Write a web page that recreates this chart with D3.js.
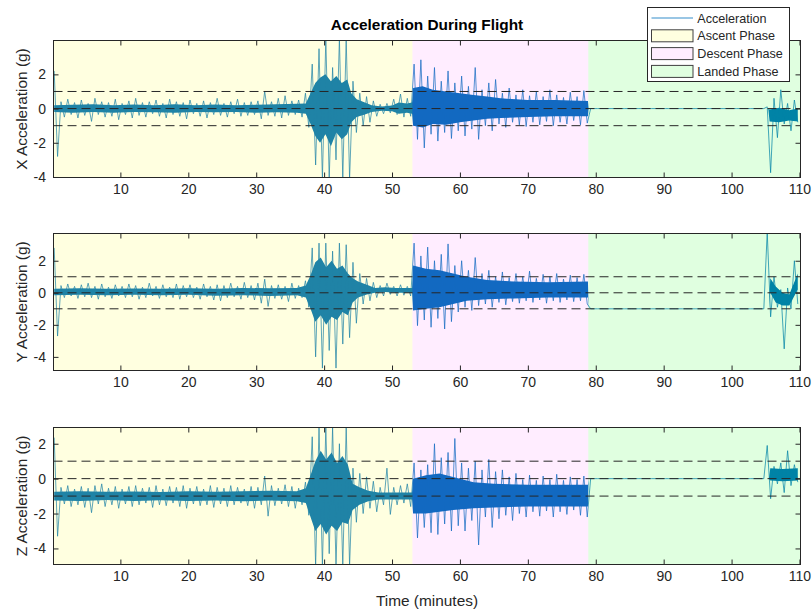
<!DOCTYPE html>
<html>
<head>
<meta charset="utf-8">
<script src="https://cdnjs.cloudflare.com/ajax/libs/d3/7.8.5/d3.min.js"></script>
<style>
    body { margin: 0; background: #fff; }
    svg { font-family: "Liberation Sans", Arial, Helvetica, sans-serif; }
</style>
</head>
<body>
<div class="chart"></div>
<script>
/* ---------------------------------------------------- +/

## Acceleration During Flight ##

Three stacked panels (X, Y, Z) over the flight phases

/+ ---------------------------------------------------- */

var phases = ['Ascent Phase', 'Descent Phase', 'Landed Phase'];
var phaseStart = [0.15, 53.0, 78.9];
var phaseEnd = [53.0, 78.9, 110.15];
var phaseColors = ['#ffff00', '#ff00ff', '#00ff00'];
var phaseAlpha = [0.12, 0.07, 0.12];

var xTicks = [10, 20, 30, 40, 50, 60, 70, 80, 90, 100, 110];
var yTicks = [-4, -2, 0, 2];
var refLines = [1, 0, -1];

var axisNames = ['X Acceleration (g)', 'Y Acceleration (g)', 'Z Acceleration (g)'];
var yLimits = [[-4.03, 3.98], [-4.85, 3.7], [-4.92, 2.93]];

/**
 * Peak values per minute (max then min)
 */
var xHi = [2.2, 0.4, 0.55, 0.35, 0.5, 0.3, 0.6, 0.4, 0.35, 0.55,
    0.3, 0.45, 0.6, 0.35, 0.4, 0.5, 0.3, 0.55, 0.4, 0.35,
    0.5, 0.3, 0.45, 0.35, 0.6, 0.3, 0.4, 0.55, 0.35, 0.4,
    0.45, 1.0, 0.4, 0.6, 0.75, 0.45, 0.5, 0.9, 2.6, 3.5,
    4.1, 2.4, 4.1, 4.1, 1.6, 0.9, 0.7, 0.45, 0.25, 0.3,
    0.55, 0.85, 0.6, 2.6, 2.85, 1.9, 2.4, 1.6, 2.2, 1.5,
    1.9, 1.3, 2.4, 1.1, 1.5, 1.7, 0.9, 1.2, 0.8, 1.1,
    0.75, 1.0, 0.7, 1.1, 0.8, 0.65, 0.95, 0.7, 1.05, 0,
    0, 0, 0, 0, 0, 0, 0, 0, 0, 0,
    0, 0, 0, 0, 0, 0, 0, 0, 0, 0,
    0, 0, 0, 0, 0, 0.1, 0.6, 1.1, 0.3, 0.5];
var xLo = [-2.8, -0.5, -0.35, -0.55, -0.4, -0.75, -0.35, -0.5, -0.45, -0.65,
    -0.35, -0.55, -0.4, -0.5, -0.3, -0.45, -0.55, -0.35, -0.45, -0.6,
    -0.3, -0.45, -0.55, -0.35, -0.4, -0.5, -0.3, -0.45, -0.4, -0.35,
    -0.6, -0.4, -0.45, -0.55, -0.4, -0.35, -0.5, -1.1, -3.3, -4.1,
    -4.1, -3.0, -4.1, -4.1, -1.4, -1.0, -0.8, -0.45, -0.3, -0.25,
    -0.35, -0.5, -0.45, -1.8, -2.3, -1.5, -1.9, -1.4, -1.75, -1.3,
    -1.6, -1.2, -1.8, -1.0, -1.3, -0.9, -1.1, -0.8, -0.95, -1.05,
    -0.8, -0.95, -0.75, -1.0, -0.8, -0.9, -0.7, -0.95, -0.85, 0,
    0, 0, 0, 0, 0, 0, 0, 0, 0, 0,
    0, 0, 0, 0, 0, 0, 0, 0, 0, 0,
    0, 0, 0, 0, 0, -3.75, -1.7, -0.9, -1.3, -0.8];
// dense core of the signal: [minute, low, high]
var xCore = [[0.25, -0.2, 0.2], [3, -0.25, 0.22], [6, -0.2, 0.25], [9, -0.25, 0.2],
    [12, -0.2, 0.24], [15, -0.22, 0.2], [18, -0.25, 0.25], [21, -0.2, 0.2],
    [24, -0.22, 0.24], [27, -0.2, 0.2], [30, -0.25, 0.22], [33, -0.22, 0.25],
    [36, -0.25, 0.28], [37.3, -0.3, 0.3], [38, -0.9, 0.9], [38.7, -1.6, 1.5],
    [39.4, -2.0, 1.8], [40.2, -1.5, 2.0], [41, -2.2, 1.6], [41.8, -1.4, 1.9],
    [42.6, -1.8, 1.5], [43.4, -1.5, 1.7], [44, -0.8, 0.9], [44.8, -0.5, 0.55],
    [46, -0.35, 0.35], [47, -0.2, 0.2], [48.5, -0.12, 0.12], [50, -0.15, 0.18],
    [51, -0.3, 0.35], [52.2, -0.25, 0.3], [52.95, -0.3, 0.35], [53.1, -1.0, 1.2],
    [54.5, -1.1, 1.3], [56, -0.9, 1.1], [58, -0.95, 1.0], [60, -0.8, 0.9],
    [62, -0.7, 0.8], [64, -0.6, 0.7], [66, -0.55, 0.6], [70, -0.5, 0.5],
    [74, -0.45, 0.5], [78.85, -0.45, 0.45], [78.95, 0, 0], [105.4, 0, 0],
    [105.6, -0.75, -0.05], [107, -0.8, 0.05], [108.5, -0.7, -0.1], [109.75, -0.75, 0.0]];

var yHi = [2.8, 0.45, 0.55, 0.4, 0.5, 0.6, 0.4, 0.55, 0.35, 0.5,
    0.4, 0.55, 0.45, 0.35, 0.6, 0.4, 0.5, 0.35, 0.55, 0.45,
    0.5, 0.35, 0.55, 0.4, 0.5, 0.45, 0.6, 0.4, 0.65, 0.45,
    0.6, 0.85, 0.45, 0.5, 0.4, 0.6, 0.45, 0.75, 2.8, 3.1,
    3.1, 2.6, 3.1, 3.0, 1.9, 1.2, 0.9, 0.65, 0.45, 0.6,
    0.4, 0.5, 0.4, 3.1, 2.3, 2.85, 2.0, 2.4, 3.05, 1.7,
    2.0, 1.4, 2.2, 1.2, 1.4, 1.0, 1.3, 0.95, 1.2, 1.0,
    1.35, 0.9, 1.15, 1.0, 1.2, 0.85, 1.1, 0.95, 1.15, -1,
    -1, -1, -1, -1, -1, -1, -1, -1, -1, -1,
    -1, -1, -1, -1, -1, -1, -1, -1, -1, -1,
    -1, -1, -1, -1, -1, 3.8, 1.0, 0.2, 0.3, 2.0];
var yLo = [-2.7, -0.3, -0.2, -0.35, -0.25, -0.3, -0.4, -0.25, -0.35, -0.2,
    -0.3, -0.25, -0.4, -0.3, -0.2, -0.35, -0.25, -0.3, -0.4, -0.25,
    -0.3, -0.4, -0.25, -0.45, -0.5, -0.3, -0.25, -0.4, -0.3, -0.45,
    -0.65, -0.85, -0.35, -0.4, -0.55, -0.35, -0.3, -0.9, -4.0, -4.7,
    -3.6, -4.7, -3.2, -2.8, -1.9, -0.7, -0.5, -0.3, -0.2, -0.1,
    -0.2, -0.15, -0.2, -2.05, -1.7, -2.15, -1.6, -2.26, -1.8, -1.2,
    -0.9, -1.1, -0.8, -0.7, -0.9, -0.6, -0.75, -0.55, -0.65, -0.5,
    -0.6, -0.45, -0.65, -0.5, -0.6, -0.45, -0.55, -0.5, -0.7, -1,
    -1, -1, -1, -1, -1, -1, -1, -1, -1, -1,
    -1, -1, -1, -1, -1, -1, -1, -1, -1, -1,
    -1, -1, -1, -1, -1, -1.5, -0.9, -3.5, -1.0, -0.7];
var yCore = [[0.25, -0.15, 0.25], [4, -0.12, 0.28], [8, -0.15, 0.25], [12, -0.12, 0.27],
    [16, -0.15, 0.25], [20, -0.12, 0.28], [24, -0.18, 0.25], [28, -0.15, 0.3],
    [32, -0.2, 0.28], [36, -0.15, 0.3], [37.3, -0.3, 0.45], [38, -1.0, 1.1],
    [38.7, -1.8, 1.9], [39.5, -1.4, 2.2], [40.3, -2.0, 1.6], [41.1, -1.5, 2.0],
    [41.9, -1.7, 1.5], [42.7, -1.2, 1.7], [43.5, -1.4, 1.2], [44.2, -0.6, 0.9],
    [45, -0.3, 0.7], [46.3, -0.1, 0.5], [47.5, 0.0, 0.3], [49, 0.05, 0.35],
    [50.5, 0.0, 0.3], [52.95, 0.0, 0.3], [53.1, -1.1, 1.7], [55, -1.0, 1.5],
    [57, -0.9, 1.4], [59, -0.7, 1.2], [61, -0.5, 1.0], [64, -0.4, 0.8],
    [68, -0.35, 0.7], [73, -0.3, 0.65], [78.85, -0.3, 0.7], [78.95, -1, -1],
    [105.5, -1, -1], [105.7, 0.0, 0.9], [106.5, -0.6, 0.4], [107.5, -0.8, 0.0],
    [108.5, -0.8, -0.1], [109.75, 0.2, 1.2]];

var zHi = [2.35, -0.5, -0.4, -0.6, -0.45, -0.55, -0.4, -0.3, -0.55, -0.45,
    -0.6, -0.45, -0.4, -0.55, -0.5, -0.4, -0.6, -0.45, -0.5, -0.4,
    -0.55, -0.45, -0.6, -0.4, -0.5, -0.55, -0.4, -0.5, -0.6, -0.45,
    -0.5, 0.15, -0.4, -0.55, -0.35, -0.45, -0.55, -0.2, 2.4, 2.95,
    2.95, 2.95, 2.0, 2.95, 0.6, 0.3, 0.1, -0.15, -0.5, 0.6,
    -0.5, -0.4, -0.3, 0.9, 0.5, 0.8, 2.0, 1.2, 1.5, 2.3,
    0.9, 0.6, 1.0, 0.5, 1.1, 0.4, 0.5, 0.1, 0.3, -0.05,
    0.2, -0.1, 0.15, -0.05, 0.25, -0.1, 0.1, -0.05, 0.15, 0,
    0, 0, 0, 0, 0, 0, 0, 0, 0, 0,
    0, 0, 0, 0, 0, 0, 0, 0, 0, 0,
    0, 0, 0, 0, 0, 1.9, 0.7, 0.9, 1.6, 0.8];
var zLo = [-3.3, -1.45, -1.6, -1.5, -1.65, -1.95, -1.45, -1.6, -1.5, -1.7,
    -1.45, -1.6, -1.5, -1.4, -1.65, -1.5, -1.55, -1.4, -1.6, -1.7,
    -1.45, -1.55, -1.5, -1.65, -1.45, -1.6, -1.5, -1.4, -1.55, -1.7,
    -1.5, -2.15, -1.55, -1.45, -1.6, -1.7, -1.5, -2.1, -5.0, -5.0,
    -4.3, -5.0, -5.0, -5.0, -2.5, -2.0, -1.7, -1.9, -1.5, -2.05,
    -1.5, -1.4, -1.6, -3.4, -2.8, -3.1, -3.2, -2.6, -3.0, -2.7,
    -3.0, -2.4, -3.8, -2.2, -2.8, -2.3, -2.1, -2.4, -2.0, -2.2,
    -1.9, -2.15, -1.85, -2.2, -1.9, -2.05, -1.8, -2.1, -2.2, 0,
    0, 0, 0, 0, 0, 0, 0, 0, 0, 0,
    0, 0, 0, 0, 0, 0, 0, 0, 0, 0,
    0, 0, 0, 0, 0, -1.15, -0.3, -0.8, -0.4, -0.2];
var zCore = [[0.25, -1.25, -0.75], [4, -1.28, -0.72], [8, -1.22, -0.75], [12, -1.28, -0.73],
    [16, -1.24, -0.76], [20, -1.28, -0.72], [24, -1.25, -0.75], [28, -1.3, -0.72],
    [32, -1.25, -0.7], [36, -1.3, -0.72], [37.3, -1.4, -0.55], [38, -2.2, 0.2],
    [38.7, -3.0, 1.0], [39.5, -2.6, 1.6], [40.3, -3.2, 1.1], [41.1, -2.7, 1.5],
    [41.9, -3.0, 0.9], [42.7, -2.5, 1.3], [43.5, -2.6, 0.8], [44.2, -1.8, -0.3],
    [45.2, -1.5, -0.5], [46.5, -1.3, -0.7], [48, -1.2, -0.8], [52.95, -1.2, -0.8],
    [53.1, -2.0, 0.0], [55, -2.0, 0.2], [57, -1.9, 0.3], [59, -1.8, 0.1],
    [62, -1.7, -0.2], [65, -1.65, -0.3], [70, -1.6, -0.35], [78.85, -1.6, -0.35],
    [78.95, 0, 0], [105.5, 0, 0], [105.7, -0.1, 0.6], [107.5, -0.15, 0.55],
    [109.75, -0.1, 0.6]];

var series = [
    { hi: xHi, lo: xLo, core: xCore },
    { hi: yHi, lo: yLo, core: yCore },
    { hi: zHi, lo: zLo, core: zCore }
];

/**
 * Layout
 */
var width = 812;
var height = 613;
var left = 53.5;
var right = 800.5;
var panelTop = [40.5, 233.5, 427.5];
var panelHeight = 137;
var lineColor = '#0072bd';
var inkColor = '#262626';

var svg = d3.select('.chart').append('svg')
    .attr('width', width)
    .attr('height', height);

var x = d3.scaleLinear()
    .domain([0.15, 110.15])
    .range([left, right]);

series.forEach(function (s, i) {
    var top = panelTop[i];
    var bottom = top + panelHeight;
    var y = d3.scaleLinear()
        .domain(yLimits[i])
        .range([bottom, top]);

    var panel = svg.append('g').attr('class', 'panel');

    panel.append('clipPath')
        .attr('id', 'clip' + i)
      .append('rect')
        .attr('x', left)
        .attr('y', top)
        .attr('width', right - left)
        .attr('height', panelHeight);

    var plot = panel.append('g')
        .attr('clip-path', 'url(#clip' + i + ')');

    // Dense core of the signal
    plot.append('path')
        .datum(s.core)
        .attr('fill', lineColor)
        .attr('d', d3.area()
            .x(function (d) { return x(d[0]); })
            .y0(function (d) { return y(d[1]); })
            .y1(function (d) { return y(d[2]); }));

    // Peaks: max then min in each minute
    var points = [];
    s.hi.forEach(function (v, k) {
        points.push([k + 0.25, v]);
        points.push([k + 0.75, s.lo[k]]);
    });
    plot.append('path')
        .datum(points)
        .attr('fill', 'none')
        .attr('stroke', lineColor)
        .attr('stroke-width', 0.8)
        .attr('stroke-opacity', 0.9)
        .attr('stroke-linejoin', 'round')
        .attr('d', d3.line()
            .x(function (d) { return x(d[0]); })
            .y(function (d) { return y(d[1]); }));

    // Translucent phase shading drawn over the signal
    plot.selectAll('.phase')
        .data(phases)
        .enter().append('rect')
        .attr('class', 'phase')
        .attr('x', function (d, k) { return x(phaseStart[k]); })
        .attr('y', top)
        .attr('width', function (d, k) { return x(phaseEnd[k]) - x(phaseStart[k]); })
        .attr('height', panelHeight)
        .attr('fill', function (d, k) { return phaseColors[k]; })
        .attr('fill-opacity', function (d, k) { return phaseAlpha[k]; });

    // Reference lines at -1, 0, 1 g
    plot.selectAll('.ref')
        .data(refLines)
        .enter().append('line')
        .attr('class', 'ref')
        .attr('x1', left)
        .attr('x2', right)
        .attr('y1', function (d) { return y(d); })
        .attr('y2', function (d) { return y(d); })
        .attr('stroke', inkColor)
        .attr('stroke-width', 1)
        .attr('stroke-dasharray', '9,5');

    /**
     * Axes, ticks inside on all four sides
     */
    var plain = function (d) { return String(d); };
    panel.append('g')
        .attr('transform', 'translate(0,' + bottom + ')')
        .call(d3.axisBottom(x).tickValues(xTicks).tickSize(-5).tickPadding(6.5).tickFormat(plain));
    panel.append('g')
        .attr('transform', 'translate(0,' + top + ')')
        .call(d3.axisTop(x).tickValues(xTicks).tickSize(-5).tickFormat(''));
    panel.append('g')
        .attr('transform', 'translate(' + left + ',0)')
        .call(d3.axisLeft(y).tickValues(yTicks).tickSize(-5).tickPadding(7.5).tickFormat(plain));
    panel.append('g')
        .attr('transform', 'translate(' + right + ',0)')
        .call(d3.axisRight(y).tickValues(yTicks).tickSize(-5).tickFormat(''));

    panel.selectAll('.domain').remove();
    panel.selectAll('.tick line').attr('stroke', inkColor);
    panel.selectAll('.tick text')
        .attr('fill', inkColor)
        .style('font-size', '14px')
        .style('font-family', '"Liberation Sans", Arial, sans-serif');

    panel.append('rect')
        .attr('x', left)
        .attr('y', top)
        .attr('width', right - left)
        .attr('height', panelHeight)
        .attr('fill', 'none')
        .attr('stroke', inkColor)
        .attr('stroke-width', 1);

    panel.append('text')
        .attr('transform', 'translate(26.5,' + (top + panelHeight / 2) + ') rotate(-90)')
        .attr('text-anchor', 'middle')
        .attr('fill', inkColor)
        .style('font-size', '15.4px')
        .text(axisNames[i]);
});

// Title and shared x label
svg.append('text')
    .attr('x', (left + right) / 2)
    .attr('y', 30)
    .attr('text-anchor', 'middle')
    .attr('font-weight', 'bold')
    .style('font-size', '15.4px')
    .text('Acceleration During Flight');

svg.append('text')
    .attr('x', (left + right) / 2)
    .attr('y', 606)
    .attr('text-anchor', 'middle')
    .attr('fill', inkColor)
    .style('font-size', '15.4px')
    .text('Time (minutes)');

/**
 * Legend
 */
var legend = svg.append('g').attr('class', 'legend');
var rowY = [18, 35.8, 53.6, 71.4];

legend.append('rect')
    .attr('x', 647.5)
    .attr('y', 7.5)
    .attr('width', 142)
    .attr('height', 74)
    .attr('fill', '#fff')
    .attr('stroke', inkColor);

legend.append('line')
    .attr('x1', 651.5)
    .attr('x2', 693)
    .attr('y1', rowY[0])
    .attr('y2', rowY[0])
    .attr('stroke', lineColor)
    .attr('stroke-opacity', 0.8);

legend.selectAll('.swatch')
    .data(phases)
    .enter().append('rect')
    .attr('class', 'swatch')
    .attr('x', 651.5)
    .attr('y', function (d, k) { return rowY[k + 1] - 6; })
    .attr('width', 41.5)
    .attr('height', 12)
    .attr('fill', function (d, k) { return phaseColors[k]; })
    .attr('fill-opacity', function (d, k) { return phaseAlpha[k]; })
    .attr('stroke', '#404040');

legend.selectAll('.label')
    .data(['Acceleration'].concat(phases))
    .enter().append('text')
    .attr('class', 'label')
    .attr('x', 697.3)
    .attr('y', function (d, k) { return rowY[k] + 4.5; })
    .attr('fill', inkColor)
    .style('font-size', '12.6px')
    .text(function (d) { return d; });
</script>
</body>
</html>
